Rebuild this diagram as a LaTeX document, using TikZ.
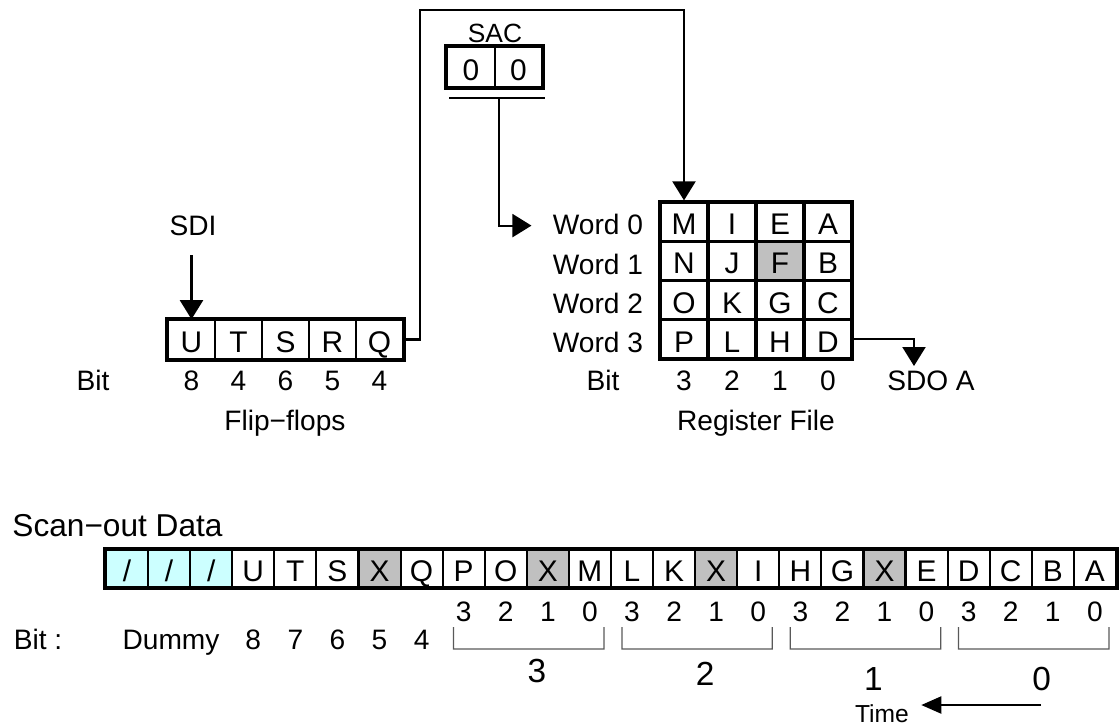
\documentclass[tikz,border=0pt]{standalone}
\usepackage{fontspec}
\setmainfont{Liberation Sans}
\usetikzlibrary{arrows.meta, calc, backgrounds}
\usepackage{xcolor}
\definecolor{dummycyan}{RGB}{204,255,255}
\definecolor{maskgray}{RGB}{192,192,192}
\tikzset{
  every node/.append style = {text height=1.4ex, text depth=0.4ex},
  celltxt/.style = {font=\fontsize{8.5}{10}\selectfont, inner sep=0pt, text depth=0pt},
  ffcell/.style  = {draw, celltxt, line width=0.45pt, minimum width=4.7mm, minimum height=3.9mm},
  regcell/.style = {draw, celltxt, line width=0.9pt, minimum width=4.8mm, minimum height=3.925mm},
  saccell/.style = {draw, celltxt, line width=0.6pt, minimum width=4.75mm, minimum height=4.0mm},
  scell/.style   = {draw, celltxt, line width=0.6pt, minimum width=4.208mm, minimum height=3.7mm},
  frame/.style   = {line width=1pt},
  sig/.style     = {-{Triangle[length=1.9mm, width=2.3mm]}, line width=0.6pt},
  brace/.style   = {draw=black!65, line width=0.35pt},
  smalltxt/.style = {font=\fontsize{7}{8}\selectfont},
  sactxt/.style   = {font=\fontsize{7.5}{9}\selectfont},
  headtxt/.style  = {font=\fontsize{9}{10}\selectfont},
  grptxt/.style   = {font=\fontsize{9.5}{11}\selectfont}
}

\begin{document}
\begin{tikzpicture}[x=1mm, y=1mm, font=\fontsize{8}{9.6}\selectfont]
\useasboundingbox (0,0) rectangle (112,-72.4);

% flip-flops
\foreach \t [count=\i from 0] in {U,T,S,R,Q}
  \node[ffcell] (ff\i) at ({19.15+4.7*\i},-33.95) {\t};
\draw[frame] (ff0.north west) rectangle (ff4.south east);
\node (ffbit) at (9.3,-38.1) {Bit};
\foreach \b [count=\i from 0] in {8,4,6,5,4}
  \node (ffbit\i) at (ff\i |- 0,-38.1) {\b};
\node (ffname) at (28.5,-42.1) {Flip−flops};
\node (sdi) at (19.3,-22.6) {SDI};
\draw[sig] (sdi.south -| ff0.north) -- (ff0.north);

% register file
\foreach \row [count=\r from 0] in {{M,I,E,A},{N,J,F,B},{O,K,G,C},{P,L,H,D}}
  \foreach \t [count=\c from 0] in \row
    \node[regcell] (rf\r\c) at ({68.4+4.8*\c},{-22.16-3.925*\r}) {\t};
\foreach \r in {0,...,3}
  \node[anchor=east, xshift=-0.3mm, yshift=-0.4mm] (word\r) at (rf\r0.west) {Word \r};
\node (rfbit) at (60.3,-38.1) {Bit};
\foreach \b [count=\c from 0] in {3,2,1,0}
  \node (rfbit\c) at (rf3\c |- 0,-38.1) {\b};
\node (rfname) at (75.6,-42.1) {Register File};

% SAC
\node[sactxt] (saclbl) at (49.5,-3.3) {SAC};
\node[saccell] (sac0) at (47.1,-6.7) {0};
\node[saccell] (sac1) at (51.85,-6.7) {0};
\draw[frame] (sac0.north west) rectangle (sac1.south east);
\coordinate (sacbar) at (49.9,-9.8);
\draw[line width=0.7pt] ($(sacbar)+(-5.0,0)$) -- ($(sacbar)+(4.6,0)$);
\draw[sig, shorten >=0.9mm] (sacbar) |- (word0.west);

% Q fed back into word 0
\coordinate (topwire) at (0,-1.0);
\draw[sig] (ff4.east) -- ++(1.6,0) |- (topwire -| rf00.north) -- (rf00.north);

% SDO
\node (sdo) at (93.1,-38.1) {SDO A};
\coordinate (sdoin) at (91.4,-36.6);
\draw[sig] (rf33.east) -| (sdoin);

% scan-out data
\node[headtxt, anchor=west] (scanlbl) at (0,-52.7) {Scan−out Data};
\foreach \t [count=\i from 0] in {/,/,/,U,T,S,X,Q,P,O,X,M,L,K,X,I,H,G,X,E,D,C,B,A}
  \node[scell] (sc\i) at ({12.704+4.208*\i},-56.85) {\t};
\begin{scope}[on background layer]
  \foreach \i in {0,1,2}
    \fill[dummycyan] (sc\i.north west) rectangle (sc\i.south east);
  \foreach \i in {6,10,14,18}
    \fill[maskgray] (sc\i.north west) rectangle (sc\i.south east);
  \fill[maskgray] (rf12.north west) rectangle (rf12.south east);
\end{scope}
\draw[frame] (sc0.north west) rectangle (sc23.south east);

\foreach \b [count=\i from 8] in {3,2,1,0,3,2,1,0,3,2,1,0,3,2,1,0}
  \node (scbit\i) at (sc\i |- 0,-61.2) {\b};
\node (scbit) at (3.8,-64.0) {Bit :};
\node (dummy) at (17.1,-64.0) {Dummy};
\foreach \b [count=\i from 3] in {8,7,6,5,4}
  \node (scbit\i) at (sc\i |- 0,-64.0) {\b};

\foreach \g/\first/\last/\dy in {3/8/11/8.5, 2/12/15/8.8, 1/16/19/9.3, 0/20/23/9.3} {
  \draw[brace] ($(sc\first.south west)+(1.2,-3.9)$) -- ++(0,-2.2)
    -- ($(sc\last.south east)+(-0.8,-6.1)$) -- ++(0,2.2);
  \node[grptxt] (grp\g) at ($(sc\first.south west)!0.5!(sc\last.south east)+(1.0,-\dy)$) {\g};
}

\node[smalltxt] (time) at (88.2,-71.3) {Time};
\coordinate (timetail) at (104.1,-70.5);
\draw[-{Triangle[length=2.0mm, width=1.7mm]}, line width=0.6pt] (timetail) -- (timetail -| time.east);
\end{tikzpicture}
\end{document}
